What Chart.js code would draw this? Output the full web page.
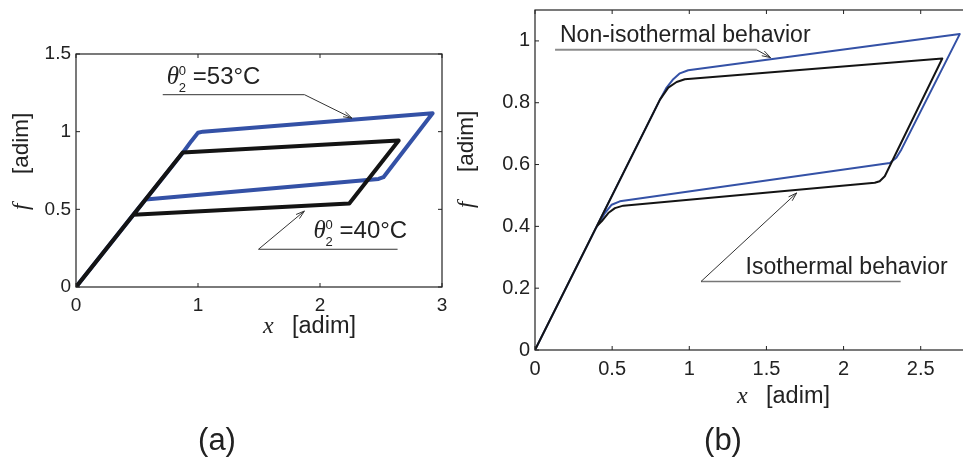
<!DOCTYPE html>
<html>
<head>
<meta charset="utf-8">
<script src="https://cdn.jsdelivr.net/npm/chart.js@4.4.0/dist/chart.umd.min.js"></script>
<style>
html, body { margin: 0; padding: 0; background: #fff; overflow: hidden; }
#wrap { position: relative; width: 963px; height: 459px; overflow: hidden; }
#chartA { position: absolute; left: 0; top: 0; width: 480px; height: 459px; }
#chartB { position: absolute; left: 455px; top: 0; width: 515px; height: 459px; }
</style>
</head>
<body>
<div id="wrap">
  <canvas id="chartA" width="480" height="459"></canvas>
  <canvas id="chartB" width="515" height="459"></canvas>
</div>
<script>
// (a) two initial temperatures
const tempLabels = ['53°C', '40°C'];
const a40X = [0, 0.875, 2.645, 2.24, 0.47, 0];
const a40Y = [0, 0.866, 0.943, 0.538, 0.465, 0];
const a53X = [0, 0.877, 0.945, 1.0, 1.04, 2.923, 2.52, 2.48, 0.57, 0.505, 0];
const a53Y = [0, 0.866, 0.939, 0.993, 1.0, 1.119, 0.707, 0.696, 0.564, 0.5, 0];

// (b) isothermal vs non-isothermal
const behaviorLabels = ['Non-isothermal behavior', 'Isothermal behavior'];
const bIsoX = [0, 0.81, 0.864, 0.918, 0.971, 2.64, 2.267, 2.234, 2.202, 0.572, 0.518, 0.475, 0.432, 0.40, 0];
const bIsoY = [0, 0.81, 0.849, 0.867, 0.876, 0.943, 0.562, 0.546, 0.541, 0.467, 0.459, 0.443, 0.416, 0.40, 0];
const bNonX = [0, 0.81, 0.853, 0.896, 0.939, 0.993, 2.753, 2.375, 2.342, 2.30, 0.55, 0.497, 0.453, 0.421, 0.39, 0];
const bNonY = [0, 0.81, 0.849, 0.876, 0.895, 0.905, 1.022, 0.649, 0.622, 0.605, 0.481, 0.470, 0.443, 0.416, 0.39, 0];

const axisLabelX = 'x';
const axisLabelY = 'f';
const unitLabel = '[adim]';

const textColor = '#222';
const blue = '#3451a6';
const black = '#141414';

function pts(xs, ys) {
    return xs.map((x, i) => ({ x: x, y: ys[i] }));
}

function arrowLine(ctx, x0, y0, x1, y1) {
    ctx.beginPath();
    ctx.moveTo(x0, y0);
    ctx.lineTo(x1, y1);
    ctx.stroke();
    const a = Math.atan2(y1 - y0, x1 - x0);
    const L = 9, w = 0.3;
    ctx.beginPath();
    ctx.moveTo(x1 - L * Math.cos(a - w), y1 - L * Math.sin(a - w));
    ctx.lineTo(x1, y1);
    ctx.lineTo(x1 - L * Math.cos(a + w), y1 - L * Math.sin(a + w));
    ctx.stroke();
}

function thetaLabel(ctx, x, y, temp) {
    ctx.textBaseline = 'alphabetic';
    ctx.textAlign = 'left';
    ctx.font = 'italic 25px "Liberation Serif"';
    ctx.fillText('θ', x, y);
    ctx.font = '13px "Liberation Sans"';
    ctx.fillText('0', x + 12, y - 9);
    ctx.fillText('2', x + 12, y + 8);
    ctx.font = '24px "Liberation Sans"';
    ctx.fillText('=' + temp, x + 26, y);
}

function xTitle(ctx, x, y) {
    ctx.textBaseline = 'alphabetic';
    ctx.textAlign = 'left';
    ctx.font = 'italic 24px "Liberation Serif"';
    ctx.fillText(axisLabelX, x, y);
    ctx.font = '23.5px "Liberation Sans"';
    ctx.fillText(unitLabel, x + 29, y);
}

function yTitle(ctx, x, y) {
    ctx.save();
    ctx.translate(x, y);
    ctx.rotate(-Math.PI / 2);
    ctx.textBaseline = 'alphabetic';
    ctx.textAlign = 'left';
    ctx.font = 'italic 23px "Liberation Serif"';
    ctx.fillText(axisLabelY, 0, 0);
    ctx.font = '22.5px "Liberation Sans"';
    ctx.fillText(unitLabel, 36, 0);
    ctx.restore();
}

// box, inward ticks, titles, notes
function makeFrame(cfg) {
    return {
        id: 'frame',
        afterDatasetsDraw(chart) {
            const { ctx, chartArea: ca, scales } = chart;
            const sx = scales.x, sy = scales.y;
            const px = v => sx.getPixelForValue(v);
            const py = v => sy.getPixelForValue(v);
            ctx.save();
            ctx.strokeStyle = textColor;
            ctx.lineWidth = 1.2;
            ctx.strokeRect(ca.left, ca.top, ca.right - ca.left, ca.bottom - ca.top);
            ctx.lineWidth = 1;
            const tl = 4;
            ctx.beginPath();
            sx.ticks.forEach(t => {
                const x = px(t.value);
                ctx.moveTo(x, ca.bottom); ctx.lineTo(x, ca.bottom - tl);
                ctx.moveTo(x, ca.top); ctx.lineTo(x, ca.top + tl);
            });
            sy.ticks.forEach(t => {
                const y = py(t.value);
                ctx.moveTo(ca.left, y); ctx.lineTo(ca.left + tl, y);
                ctx.moveTo(ca.right, y); ctx.lineTo(ca.right - tl, y);
            });
            ctx.stroke();

            ctx.fillStyle = textColor;
            xTitle(ctx, cfg.xTitle[0], cfg.xTitle[1]);
            yTitle(ctx, cfg.yTitle[0], cfg.yTitle[1]);

            ctx.font = '31px "Liberation Sans"';
            ctx.textAlign = 'center';
            ctx.textBaseline = 'alphabetic';
            ctx.fillText(cfg.panel, cfg.panelPos[0], cfg.panelPos[1]);

            cfg.notes(ctx, px, py);
            ctx.restore();
        }
    };
}

const fmt = v => String(Number(v.toFixed(2)));

function makeChart(id, datasets, xr, yr, xStep, yStep, tickSize, yw, pad, frame) {
    return new Chart(document.getElementById(id), {
        type: 'line',
        data: { datasets: datasets },
        options: {
            responsive: false,
            animation: false,
            layout: { padding: pad },
            plugins: { legend: { display: false }, tooltip: { enabled: false } },
            elements: { point: { radius: 0 }, line: { tension: 0 } },
            scales: {
                x: {
                    type: 'linear', min: xr[0], max: xr[1],
                    grid: { display: false, drawTicks: false },
                    border: { display: false },
                    ticks: { stepSize: xStep, includeBounds: false, padding: 7, color: textColor, maxRotation: 0,
                        callback: fmt, font: { family: 'Liberation Sans', size: tickSize } },
                    afterFit: s => { s.height = 40; s.paddingLeft = 0; s.paddingRight = 0; }
                },
                y: {
                    type: 'linear', min: yr[0], max: yr[1],
                    grid: { display: false, drawTicks: false },
                    border: { display: false },
                    ticks: { stepSize: yStep, includeBounds: false, padding: 5, color: textColor,
                        callback: fmt, font: { family: 'Liberation Sans', size: tickSize } },
                    afterFit: s => { s.width = yw; s.paddingTop = 0; s.paddingBottom = 0; }
                }
            }
        },
        plugins: [makeFrame(frame)]
    });
}

document.addEventListener('DOMContentLoaded', function () {
    makeChart('chartA', [
        { label: tempLabels[1], data: pts(a40X, a40Y), borderColor: black, borderWidth: 4, borderJoinStyle: 'round', fill: false },
        { label: tempLabels[0], data: pts(a53X, a53Y), borderColor: blue, borderWidth: 4, borderJoinStyle: 'round', fill: false }
    ], [0, 3], [0, 1.5], 1, 0.5, 19, 76, { top: 54, right: 38, left: 0, bottom: 132 }, {
        xTitle: [263, 333], yTitle: [28, 210], panel: '(a)', panelPos: [217, 450],
        notes: (ctx, px, py) => {
            ctx.strokeStyle = '#333';
            ctx.lineWidth = 1;
            ctx.beginPath();
            ctx.moveTo(px(0.711), py(1.238)); ctx.lineTo(px(1.873), py(1.238));
            ctx.stroke();
            arrowLine(ctx, px(1.873), py(1.238), px(2.262), py(1.087));
            ctx.beginPath();
            ctx.moveTo(px(1.496), py(0.243)); ctx.lineTo(px(2.636), py(0.243));
            ctx.stroke();
            arrowLine(ctx, px(1.496), py(0.243), px(1.872), py(0.489));
            ctx.fillStyle = textColor;
            thetaLabel(ctx, px(0.744), py(1.309), tempLabels[0]);
            thetaLabel(ctx, px(1.947), py(0.3125), tempLabels[1]);
        }
    });

    makeChart('chartB', [
        { label: behaviorLabels[1], data: pts(bIsoX, bIsoY), borderColor: black, borderWidth: 2, borderJoinStyle: 'round', fill: false },
        { label: behaviorLabels[0], data: pts(bNonX, bNonY), borderColor: blue, borderWidth: 2, borderJoinStyle: 'round', fill: false }
    ], [0, 2.8], [0, 1.1], 0.5, 0.2, 20, 80, { top: 10, right: 3, left: 0, bottom: 69 }, {
        xTitle: [737 - 455, 403], yTitle: [18, 208], panel: '(b)', panelPos: [723 - 455, 450],
        notes: (ctx, px, py) => {
            ctx.strokeStyle = '#8c8c8c';
            ctx.lineWidth = 2;
            ctx.beginPath();
            ctx.moveTo(px(0.13), py(0.971)); ctx.lineTo(px(1.437), py(0.971));
            ctx.stroke();
            ctx.strokeStyle = '#333';
            ctx.lineWidth = 1;
            arrowLine(ctx, px(1.437), py(0.971), px(1.527), py(0.946));
            ctx.strokeStyle = '#777';
            ctx.lineWidth = 1.5;
            ctx.beginPath();
            ctx.moveTo(px(1.076), py(0.2216)); ctx.lineTo(px(2.37), py(0.2216));
            ctx.stroke();
            ctx.strokeStyle = '#333';
            ctx.lineWidth = 1;
            arrowLine(ctx, px(1.076), py(0.2216), px(1.696), py(0.508));
            ctx.fillStyle = textColor;
            ctx.font = '23px "Liberation Sans"';
            ctx.textAlign = 'left';
            ctx.textBaseline = 'alphabetic';
            ctx.fillText(behaviorLabels[0], px(0.162), py(0.997));
            ctx.fillText(behaviorLabels[1], px(1.365), py(0.2465));
        }
    });
});
</script>
</body>
</html>
